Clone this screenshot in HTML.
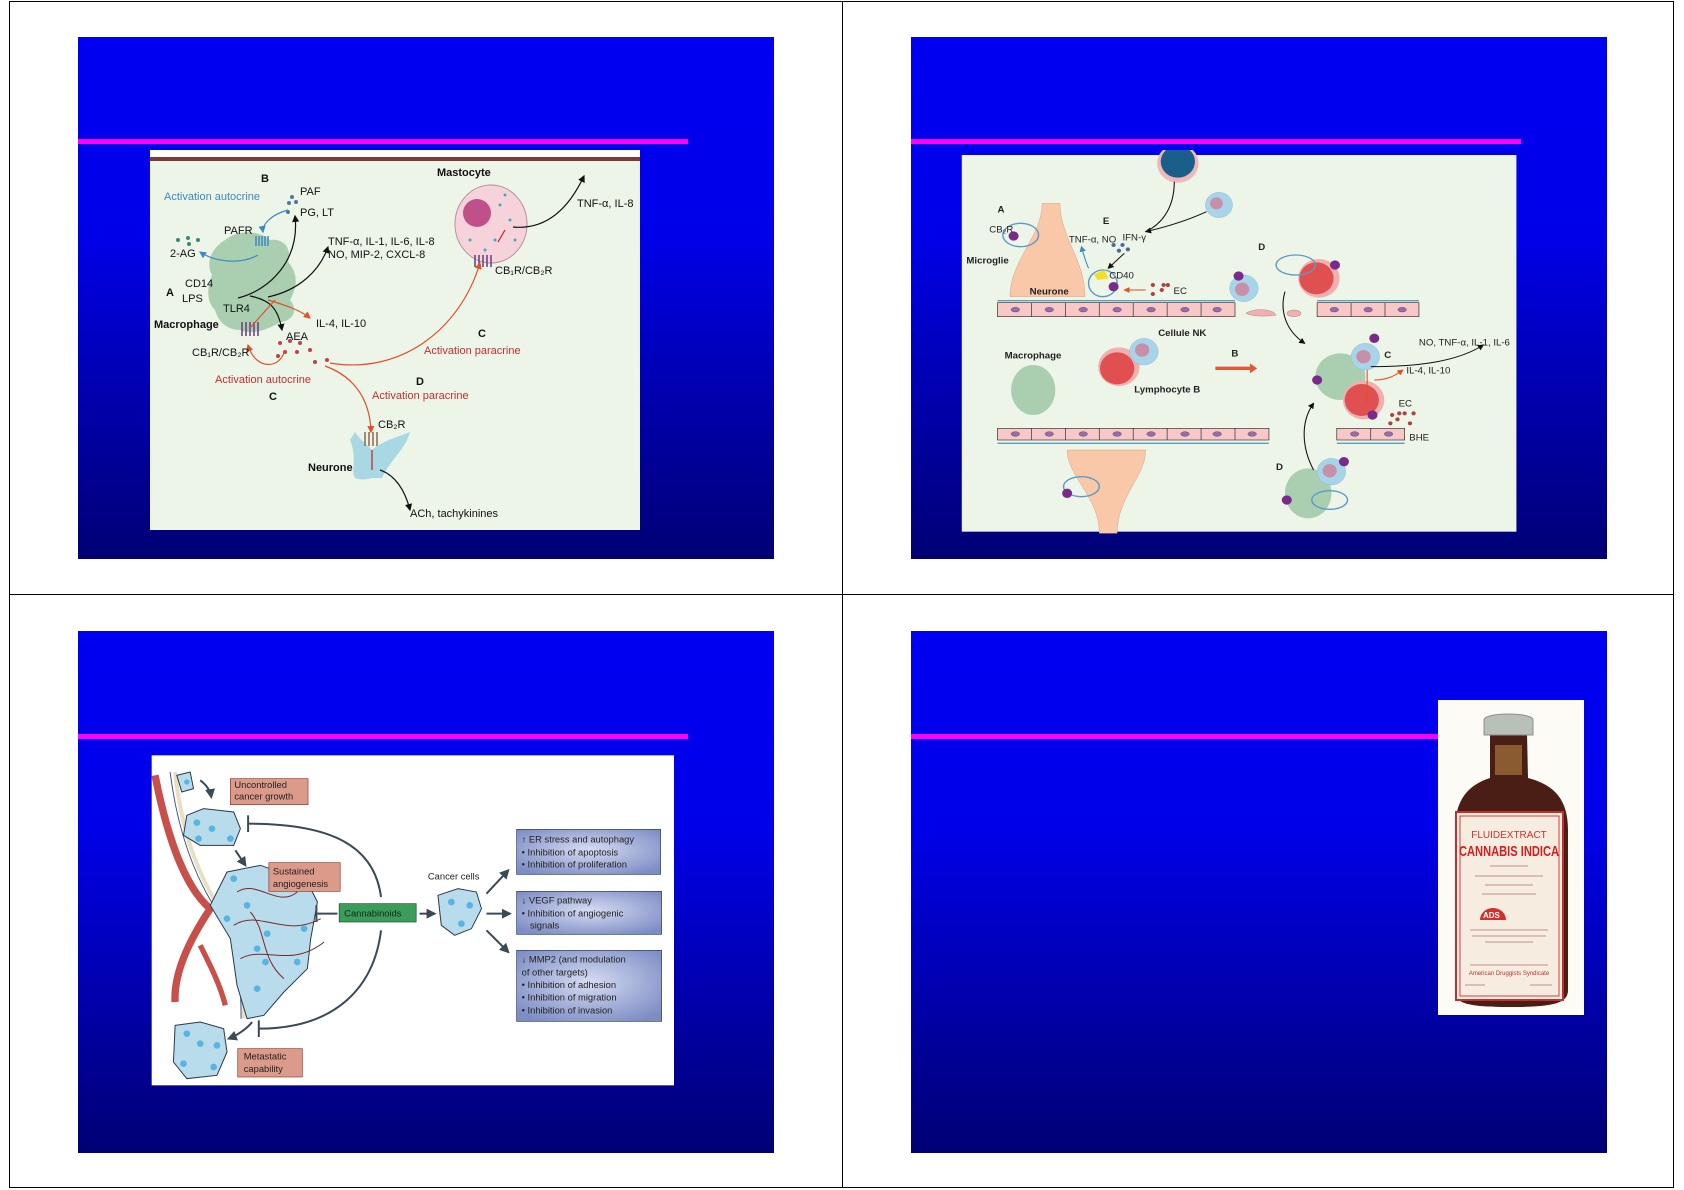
<!DOCTYPE html>
<html><head><meta charset="utf-8"><style>
html,body{margin:0;padding:0;background:#fff;}
body{width:1684px;height:1190px;position:relative;overflow:hidden;font-family:"Liberation Sans",sans-serif;}
.slide{position:absolute;width:696px;height:522px;background:linear-gradient(to bottom,#0000f2 0%,#0000e8 38%,#0000a8 72%,#000074 100%);}
.mag{position:absolute;height:5px;background:#ff00ff;}
svg text{font-family:"Liberation Sans",sans-serif;}
</style></head><body>
<div style="position:absolute;left:9px;top:1px;width:1665px;height:1187px;border:1px solid #000;box-sizing:border-box;"></div>
<div style="position:absolute;left:842px;top:1px;width:1px;height:1187px;background:#000;"></div>
<div style="position:absolute;left:9px;top:594px;width:1665px;height:1px;background:#000;"></div>

<div class="slide" style="left:78px;top:37px;"></div>
<div class="slide" style="left:911px;top:37px;"></div>
<div class="slide" style="left:78px;top:631px;"></div>
<div class="slide" style="left:911px;top:631px;"></div>
<div class="mag" style="left:78px;top:139px;width:610px;"></div>
<div class="mag" style="left:911px;top:139px;width:610px;"></div>
<div class="mag" style="left:78px;top:734px;width:610px;"></div>
<div class="mag" style="left:911px;top:734px;width:527px;"></div>

<svg width="1684" height="1190" style="position:absolute;left:0;top:0">
<defs>
<marker id="ak" markerWidth="6" markerHeight="6" refX="5" refY="3" orient="auto"><path d="M0,0L6,3L0,6z" fill="#111"/></marker>
<marker id="ar" markerWidth="6" markerHeight="6" refX="5" refY="3" orient="auto"><path d="M0,0L6,3L0,6z" fill="#e0502a"/></marker>
<marker id="ab" markerWidth="6" markerHeight="6" refX="5" refY="3" orient="auto"><path d="M0,0L6,3L0,6z" fill="#3a8ac0"/></marker>
<marker id="as" markerWidth="5" markerHeight="5" refX="4" refY="2.5" orient="auto"><path d="M0,0L5,2.5L0,5z" fill="#3a4a55"/></marker>
<radialGradient id="bb" cx="50%" cy="45%" r="65%"><stop offset="0" stop-color="#d6dcf2"/><stop offset="1" stop-color="#7c8cc4"/></radialGradient>
</defs>

<!-- Diagram 1 -->
<rect x="150" y="150" width="490" height="380" fill="#edf4e8"/>
<rect x="150" y="150" width="490" height="7" fill="#fff"/>
<rect x="150" y="157" width="490" height="4" fill="#7a3a36"/>
<path d="M225,240 C240,228 262,232 270,240 C285,238 292,250 288,262 C300,275 296,290 290,300 C300,312 290,322 280,322 C268,330 252,335 240,330 C228,330 218,322 215,310 C205,300 208,285 212,275 C205,262 212,248 225,240z" fill="#a9cfb0"/>
<ellipse cx="491" cy="224" rx="36" ry="39" fill="#f6d2da" stroke="#b890a0"/>
<ellipse cx="477" cy="213" rx="14" ry="14" fill="#c0508a"/>
<g fill="#40a8c0"><circle cx="500" cy="205" r="1.5"/><circle cx="510" cy="220" r="1.5"/><circle cx="495" cy="240" r="1.5"/><circle cx="470" cy="240" r="1.5"/><circle cx="515" cy="240" r="1.5"/><circle cx="505" cy="195" r="1.5"/><circle cx="485" cy="250" r="1.5"/></g>
<g stroke="#6a3a80" stroke-width="1.5" fill="none"><path d="M475,255v12M479,255v12M483,255v12M487,255v12M491,255v12"/><path d="M242,322v14M246,322v14M250,322v14M254,322v14M258,322v14"/></g>
<g stroke="#3a8ac0" stroke-width="1.5" fill="none"><path d="M256,236v10M259,236v10M262,236v10M265,236v10M268,236v10"/></g>
<path d="M355,432 C360,440 368,445 372,450 L372,478 C366,480 360,480 355,478 C350,470 358,460 350,440z M372,450 C380,442 400,436 410,432 C405,450 390,460 382,478 L372,478z" fill="#a8d8e4"/>
<g stroke="#8a6a4a" stroke-width="1.5"><path d="M365,432v14M369,432v14M373,432v14M377,432v14"/></g>
<g fill="#c0404a"><circle cx="280" cy="343" r="2"/><circle cx="290" cy="341" r="2"/><circle cx="300" cy="343" r="2"/><circle cx="285" cy="352" r="2"/><circle cx="297" cy="352" r="2"/><circle cx="310" cy="350" r="2"/><circle cx="315" cy="362" r="2"/><circle cx="327" cy="360" r="2"/><circle cx="278" cy="356" r="2"/></g>
<g fill="#3a8a70"><circle cx="178" cy="240" r="2"/><circle cx="188" cy="238" r="2"/><circle cx="189" cy="244" r="2"/><circle cx="198" cy="240" r="2"/></g>
<g fill="#4a7aa0"><circle cx="292" cy="197" r="2"/><circle cx="289" cy="203" r="2"/><circle cx="296" cy="202" r="2"/><circle cx="288" cy="212" r="2"/></g>
<g fill="none" stroke-width="1.2">
<path d="M288,210 C270,215 262,225 263,232" stroke="#3a8ac0" marker-end="url(#ab)"/>
<path d="M258,255 C240,265 215,262 200,252" stroke="#3a8ac0" marker-end="url(#ab)"/>
<path d="M238,298 C270,290 300,260 295,216" stroke="#111" marker-end="url(#ak)"/>
<path d="M268,297 C300,290 320,270 328,247" stroke="#111" marker-end="url(#ak)"/>
<path d="M250,296 C270,300 278,308 282,330" stroke="#111" marker-end="url(#ak)"/>
<path d="M513,227 C545,230 568,210 584,176" stroke="#111" marker-end="url(#ak)"/>
<path d="M380,470 C395,475 405,490 410,510" stroke="#111" marker-end="url(#ak)"/>
<path d="M268,300 C285,305 300,310 310,318" stroke="#e0502a" marker-end="url(#ar)"/>
<path d="M250,328 L275,300" stroke="#e0502a"/>
<path d="M285,350 C280,370 255,370 248,345" stroke="#e0502a" marker-end="url(#ar)"/>
<path d="M330,363 C400,375 460,330 480,263" stroke="#e0502a" marker-end="url(#ar)"/>
<path d="M325,366 C350,375 370,395 371,432" stroke="#e0502a" marker-end="url(#ar)"/>
<path d="M372,450 V470" stroke="#c02020"/>
<path d="M498,242 L505,230" stroke="#c02020"/>
</g>
<g font-size="11" fill="#111">
<text x="261" y="182" font-weight="bold">B</text>
<text x="164" y="200" fill="#3a8ac0">Activation autocrine</text>
<text x="300" y="195">PAF</text>
<text x="300" y="216">PG, LT</text>
<text x="437" y="176" font-weight="bold">Mastocyte</text>
<text x="577" y="207">TNF-α, IL-8</text>
<text x="224" y="234">PAFR</text>
<text x="170" y="257">2-AG</text>
<text x="328" y="245">TNF-α, IL-1, IL-6, IL-8</text>
<text x="328" y="258">NO, MIP-2, CXCL-8</text>
<text x="495" y="274">CB₁R/CB₂R</text>
<text x="166" y="296" font-weight="bold">A</text>
<text x="185" y="287">CD14</text>
<text x="182" y="302">LPS</text>
<text x="223" y="312">TLR4</text>
<text x="154" y="328" font-weight="bold">Macrophage</text>
<text x="316" y="327">IL-4, IL-10</text>
<text x="286" y="340">AEA</text>
<text x="192" y="356">CB₁R/CB₂R</text>
<text x="478" y="337" font-weight="bold">C</text>
<text x="424" y="354" fill="#c03030">Activation paracrine</text>
<text x="215" y="383" fill="#c03030">Activation autocrine</text>
<text x="269" y="400" font-weight="bold">C</text>
<text x="416" y="385" font-weight="bold">D</text>
<text x="372" y="399" fill="#c03030">Activation paracrine</text>
<text x="378" y="428">CB₂R</text>
<text x="308" y="471" font-weight="bold">Neurone</text>
<text x="410" y="517">ACh, tachykinines</text>
</g>

<!-- Diagram 2 -->
<svg x="960" y="150" width="560" height="385" viewBox="0 0 1568 1155" preserveAspectRatio="none">
<rect x="5" y="15" width="1553" height="1130" fill="#edf4e8"/>
<circle cx="610" cy="40" r="58" fill="#f0b8b8"/><circle cx="610" cy="35" r="48" fill="#1a5f8a"/>
<circle cx="725" cy="165" r="38" fill="#a8d4ea" stroke="#7ab0d0"/><circle cx="718" cy="160" r="18" fill="#c890a8"/>
<path d="M230,160 L280,160 C280,260 350,330 350,440 L140,440 C140,330 230,260 230,160z" fill="#f8c8a8" stroke="#c09070"/>
<path d="M300,900 L520,900 C520,980 440,1040 440,1150 L390,1150 C390,1040 300,980 300,900z" fill="#f8c8a8" stroke="#c09070"/>
<rect x="105" y="458" width="665" height="42" fill="#f8c8c8" stroke="#333" stroke-width="2"/>
<rect x="1000" y="458" width="285" height="42" fill="#f8c8c8" stroke="#333" stroke-width="2"/>
<rect x="105" y="835" width="760" height="35" fill="#f8c8c8" stroke="#333" stroke-width="2"/>
<rect x="1055" y="835" width="190" height="35" fill="#f8c8c8" stroke="#333" stroke-width="2"/>
<g stroke="#333" stroke-width="2"><path d="M200,458v42M295,458v42M390,458v42M485,458v42M580,458v42M675,458v42M1095,458v42M1190,458v42M200,835v35M295,835v35M390,835v35M485,835v35M580,835v35M675,835v35M770,835v35M1150,835v35"/></g>
<g fill="#9a6aaa" stroke="#333"><ellipse cx="155" cy="479" rx="12" ry="7"/><ellipse cx="250" cy="479" rx="12" ry="7"/><ellipse cx="345" cy="479" rx="12" ry="7"/><ellipse cx="440" cy="479" rx="12" ry="7"/><ellipse cx="535" cy="479" rx="12" ry="7"/><ellipse cx="630" cy="479" rx="12" ry="7"/><ellipse cx="720" cy="479" rx="12" ry="7"/><ellipse cx="1048" cy="479" rx="12" ry="7"/><ellipse cx="1143" cy="479" rx="12" ry="7"/><ellipse cx="1238" cy="479" rx="12" ry="7"/>
<ellipse cx="155" cy="852" rx="12" ry="7"/><ellipse cx="250" cy="852" rx="12" ry="7"/><ellipse cx="345" cy="852" rx="12" ry="7"/><ellipse cx="440" cy="852" rx="12" ry="7"/><ellipse cx="535" cy="852" rx="12" ry="7"/><ellipse cx="630" cy="852" rx="12" ry="7"/><ellipse cx="720" cy="852" rx="12" ry="7"/><ellipse cx="818" cy="852" rx="12" ry="7"/><ellipse cx="1105" cy="852" rx="12" ry="7"/><ellipse cx="1200" cy="852" rx="12" ry="7"/></g>
<path d="M105,452H770M1000,452H1285M105,880H865M1055,880H1245" stroke="#5aa0c0" stroke-width="4"/>
<path d="M800,490 C830,470 880,480 885,495 C860,500 820,500 800,490z M915,490 a20,10 0 1,0 40,0 a20,10 0 1,0 -40,0" fill="#f0b0b0" stroke="#a06060"/>
<circle cx="1005" cy="385" r="58" fill="#f0b0b0"/><circle cx="998" cy="385" r="48" fill="#e05050"/>
<circle cx="795" cy="415" r="40" fill="#a8d4ea" stroke="#7ab0d0"/><circle cx="790" cy="418" r="20" fill="#c890a8"/>
<ellipse cx="940" cy="345" rx="55" ry="30" fill="none" stroke="#5a9ac8" stroke-width="4"/>
<ellipse cx="205" cy="720" rx="62" ry="75" fill="#a9cfb0"/>
<circle cx="445" cy="650" r="58" fill="#f0b0b0"/><circle cx="440" cy="655" r="48" fill="#e05050"/>
<circle cx="515" cy="605" r="40" fill="#a8d4ea" stroke="#7ab0d0"/><circle cx="510" cy="600" r="20" fill="#c890a8"/>
<path d="M715,655H815" stroke="#e05a3a" stroke-width="10"/><path d="M812,640L832,655L812,670z" fill="#e05a3a"/>
<ellipse cx="1065" cy="680" rx="70" ry="70" fill="#a9cfb0"/>
<circle cx="1130" cy="750" r="58" fill="#f0b0b0"/><circle cx="1125" cy="750" r="48" fill="#e05050"/>
<circle cx="1135" cy="620" r="40" fill="#a8d4ea" stroke="#7ab0d0"/><circle cx="1130" cy="620" r="20" fill="#c890a8"/>
<ellipse cx="975" cy="1030" rx="65" ry="75" fill="#a9cfb0"/>
<circle cx="1040" cy="965" r="40" fill="#a8d4ea" stroke="#7ab0d0"/><circle cx="1035" cy="962" r="20" fill="#c890a8"/>
<ellipse cx="1035" cy="1050" rx="50" ry="28" fill="none" stroke="#5a9ac8" stroke-width="4"/>
<ellipse cx="340" cy="1010" rx="50" ry="30" fill="none" stroke="#5a9ac8" stroke-width="4"/>
<ellipse cx="170" cy="255" rx="50" ry="35" fill="none" stroke="#5a9ac8" stroke-width="4"/>
<ellipse cx="400" cy="400" rx="40" ry="40" fill="none" stroke="#5a9ac8" stroke-width="4"/>
<g fill="#7a2a8a"><circle cx="150" cy="258" r="14"/><circle cx="430" cy="410" r="14"/><circle cx="780" cy="378" r="14"/><circle cx="1050" cy="345" r="14"/><circle cx="1160" cy="565" r="14"/><circle cx="1000" cy="690" r="14"/><circle cx="1155" cy="795" r="14"/><circle cx="1075" cy="935" r="14"/><circle cx="915" cy="1050" r="14"/><circle cx="300" cy="1030" r="14"/></g>
<path d="M375,372 L405,360 L415,385 L385,390z" fill="#f0e020"/>
<g fill="#b04040"><circle cx="540" cy="405" r="6"/><circle cx="540" cy="432" r="6"/><circle cx="570" cy="405" r="6"/><circle cx="582" cy="405" r="6"/><circle cx="565" cy="420" r="6"/><circle cx="1210" cy="795" r="6"/><circle cx="1230" cy="790" r="6"/><circle cx="1245" cy="790" r="6"/><circle cx="1270" cy="790" r="6"/><circle cx="1205" cy="820" r="6"/><circle cx="1225" cy="808" r="6"/><circle cx="1260" cy="820" r="6"/></g>
<g fill="#4a6a9a"><circle cx="430" cy="285" r="6"/><circle cx="455" cy="285" r="6"/><circle cx="445" cy="302" r="6"/><circle cx="470" cy="298" r="6"/></g>
<g fill="none" stroke="#111" stroke-width="3">
<path d="M600,95 C600,180 560,225 520,245"/><path d="M690,185 C640,210 580,230 520,245" marker-end="url(#ak)"/>
<path d="M460,310 L415,355" marker-end="url(#ak)"/>
<path d="M910,425 C895,480 910,540 965,580" marker-end="url(#ak)"/>
<path d="M990,960 C960,900 950,820 990,760" marker-end="url(#ak)"/>
<path d="M1150,650 C1300,650 1400,630 1465,585" marker-end="url(#ak)"/>
</g>
<path d="M1160,690 C1200,690 1220,675 1240,660" stroke="#e0502a" stroke-width="3" fill="none" marker-end="url(#ar)"/>
<path d="M1140,660V760" stroke="#e0502a" stroke-width="3"/>
<path d="M520,420H460" stroke="#e0502a" stroke-width="3" marker-end="url(#ar)"/>
<path d="M360,355 C350,330 345,310 340,290" stroke="#3a8ac0" stroke-width="3" fill="none" marker-end="url(#ab)"/>
<g font-size="27" fill="#222">
<text x="105" y="188" font-weight="bold">A</text>
<text x="82" y="248">CB₂R</text>
<text x="18" y="340" font-weight="bold">Microglie</text>
<text x="400" y="222" font-weight="bold">E</text>
<text x="305" y="278">TNF-α, NO</text>
<text x="455" y="272">IFN-γ</text>
<text x="418" y="386">CD40</text>
<text x="598" y="432">EC</text>
<text x="195" y="434" font-weight="bold">Neurone</text>
<text x="835" y="300" font-weight="bold">D</text>
<text x="555" y="558" font-weight="bold">Cellule NK</text>
<text x="125" y="626" font-weight="bold">Macrophage</text>
<text x="760" y="620" font-weight="bold">B</text>
<text x="488" y="728" font-weight="bold">Lymphocyte B</text>
<text x="1188" y="624" font-weight="bold">C</text>
<text x="1285" y="586">NO, TNF-α, IL-1, IL-6</text>
<text x="1250" y="670">IL-4, IL-10</text>
<text x="1228" y="770">EC</text>
<text x="1258" y="872">BHE</text>
<text x="885" y="960" font-weight="bold">D</text>
</g>
</svg>

<!-- Diagram 3 -->
<svg x="150" y="752" width="525" height="335" viewBox="0 0 1568 1005" preserveAspectRatio="none">
<rect x="5" y="10" width="1560" height="990" fill="#fff"/>
<path d="M15,70 C60,300 120,420 180,470 C120,560 70,660 75,750" stroke="#c8504a" stroke-width="22" fill="none"/>
<path d="M180,470 C220,450 260,445 290,460" stroke="#c8504a" stroke-width="18" fill="none"/>
<path d="M150,580 C180,640 210,700 225,760" stroke="#c8504a" stroke-width="16" fill="none"/>
<path d="M75,60 C100,300 180,430 240,520 C270,600 280,700 280,800" stroke="#e8e0c0" stroke-width="12" fill="none"/>
<path d="M60,60 C90,300 170,440 230,520 C265,600 272,700 272,800" stroke="#3a5a8a" stroke-width="3" fill="none"/>
<g fill="#b8dcec" stroke="#2a3a4a" stroke-width="3">
<path d="M230,360 L330,340 L470,390 L500,450 L480,560 L470,650 L400,720 L340,790 L290,800 L260,700 L240,560 L180,460 Z"/>
<path d="M110,190 L160,170 L250,180 L270,230 L250,280 L150,280 L100,250Z"/>
<path d="M75,820 L150,810 L220,830 L230,900 L200,970 L110,980 L70,930Z"/>
<path d="M80,70 L120,60 L130,110 L95,120Z"/>
<path d="M860,430 L920,410 L975,420 L990,470 L960,530 L910,550 L870,520Z"/>
</g>
<g fill="#5ab4e0"><circle cx="140" cy="212" r="10"/><circle cx="185" cy="230" r="10"/><circle cx="145" cy="260" r="10"/><circle cx="240" cy="260" r="10"/><circle cx="290" cy="460" r="10"/><circle cx="350" cy="545" r="10"/><circle cx="320" cy="590" r="10"/><circle cx="460" cy="530" r="10"/><circle cx="345" cy="630" r="10"/><circle cx="440" cy="630" r="10"/><circle cx="320" cy="710" r="10"/><circle cx="250" cy="380" r="10"/><circle cx="230" cy="500" r="10"/><circle cx="110" cy="845" r="10"/><circle cx="150" cy="875" r="10"/><circle cx="200" cy="880" r="10"/><circle cx="100" cy="935" r="10"/><circle cx="190" cy="945" r="10"/><circle cx="900" cy="450" r="10"/><circle cx="955" cy="460" r="10"/><circle cx="930" cy="515" r="10"/><circle cx="110" cy="90" r="8"/></g>
<g stroke="#7a2a2a" stroke-width="3" fill="none"><path d="M260,420 C320,380 380,470 440,420 M250,520 C330,470 400,560 510,500 M270,620 C340,580 420,650 520,570 M300,480 C350,540 330,620 400,680"/></g>
<g fill="none" stroke="#3a4a55" stroke-width="6">
<path d="M150,85 C170,100 180,115 183,135" marker-end="url(#as)"/>
<path d="M255,295 L285,340" marker-end="url(#as)"/>
<path d="M305,810 C290,830 260,850 235,860" marker-end="url(#as)"/>
<path d="M690,435 C670,280 540,215 295,215"/><path d="M293,190V240"/>
<path d="M690,535 C670,700 560,830 325,830"/><path d="M325,805V855"/>
<path d="M560,485H500"/><path d="M497,460V510"/>
<path d="M805,485H850" marker-end="url(#as)"/>
<path d="M1005,425 L1070,355" marker-end="url(#as)"/>
<path d="M1005,485H1075" marker-end="url(#as)"/>
<path d="M1005,535 L1070,600" marker-end="url(#as)"/>
</g>
<rect x="240" y="80" width="232" height="78" fill="#dc9a8a" stroke="#8a3a2a" stroke-width="2"/>
<rect x="355" y="332" width="213" height="86" fill="#dc9a8a" stroke="#8a3a2a" stroke-width="2"/>
<rect x="262" y="890" width="193" height="85" fill="#dc9a8a" stroke="#8a3a2a" stroke-width="2"/>
<rect x="565" y="455" width="230" height="55" fill="#3c9c5c" stroke="#1a4a2a" stroke-width="2"/>
<rect x="1095" y="232" width="430" height="135" fill="url(#bb)" stroke="#2a3a5a" stroke-width="2"/>
<rect x="1095" y="418" width="433" height="129" fill="url(#bb)" stroke="#2a3a5a" stroke-width="2"/>
<rect x="1095" y="595" width="433" height="213" fill="url(#bb)" stroke="#2a3a5a" stroke-width="2"/>
<g font-size="28" fill="#222">
<text x="252" y="108">Uncontrolled</text><text x="252" y="143">cancer growth</text>
<text x="367" y="367">Sustained</text><text x="367" y="405">angiogenesis</text>
<text x="280" y="922">Metastatic</text><text x="280" y="960">capability</text>
<text x="580" y="494" fill="#0e2a16">Cannabinoids</text>
<text x="830" y="382">Cancer cells</text>
<text x="1110" y="272">↑ ER stress and autophagy</text>
<text x="1110" y="310">• Inhibition of apoptosis</text>
<text x="1110" y="346">• Inhibition of proliferation</text>
<text x="1110" y="455">↓ VEGF pathway</text>
<text x="1110" y="493">• Inhibition of angiogenic</text>
<text x="1135" y="530">signals</text>
<text x="1110" y="632">↓ MMP2 (and modulation</text>
<text x="1110" y="670">of other targets)</text>
<text x="1110" y="708">• Inhibition of adhesion</text>
<text x="1110" y="746">• Inhibition of migration</text>
<text x="1110" y="784">• Inhibition of invasion</text>
</g>
</svg>

<!-- Bottle -->
<rect x="1438" y="700" width="146" height="315" fill="#fdfbf6"/>
<path d="M1490,733 L1527,733 L1528,778 C1555,785 1568,800 1568,830 L1568,990 C1568,1003 1555,1007 1510,1007 C1465,1007 1455,1003 1455,990 L1455,830 C1455,800 1468,785 1490,778Z" fill="#4a1e14"/>
<rect x="1495" y="745" width="27" height="30" fill="#8a5a30"/>
<path d="M1484,720 C1484,712 1533,712 1533,720 L1533,735 L1484,735Z" fill="#b8c0b8" stroke="#8a9090"/>
<rect x="1456" y="812" width="107" height="188" fill="#f6ece0" stroke="#c03030" stroke-width="2"/>
<rect x="1460" y="816" width="99" height="180" fill="none" stroke="#d04040" stroke-width="1"/>
<text x="1509" y="838" font-size="10" fill="#d03030" text-anchor="middle" font-family="Liberation Serif,serif">FLUIDEXTRACT</text>
<text x="1509" y="856" font-size="15" fill="#d02020" text-anchor="middle" font-weight="bold" textLength="100" lengthAdjust="spacingAndGlyphs">CANNABIS INDICA</text>
<g stroke="#c09090" stroke-width="1"><path d="M1490,866H1528M1475,876H1543M1485,885H1533M1482,894H1536M1470,930H1548M1472,936H1546M1485,942H1533M1470,965H1548M1465,985H1485M1530,985H1552"/></g>
<path d="M1480,920 a13,12 0 0,1 26,0 z" fill="#d03030"/>
<text x="1483" y="918" font-size="8" fill="#fff" font-weight="bold">ADS</text>
<text x="1509" y="975" font-size="6" fill="#c03030" text-anchor="middle">American Druggists Syndicate</text>
</svg>
</body></html>
